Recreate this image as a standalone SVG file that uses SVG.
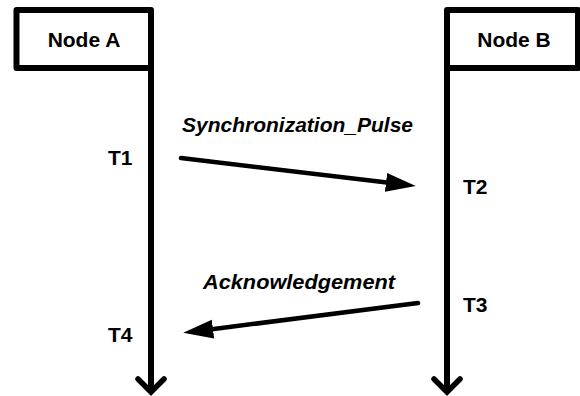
<svg xmlns="http://www.w3.org/2000/svg" width="580" height="396" viewBox="0 0 580 396">
  <style>
    .box { fill: #fff; stroke: #000; stroke-width: 6; stroke-linejoin: round; }
    .life { fill: none; stroke: #000; stroke-width: 6; }
    .chev { fill: none; stroke: #000; stroke-width: 5.5; stroke-linejoin: miter; stroke-linecap: round; }
    .msg { fill: none; stroke: #000; stroke-width: 4.5; stroke-linecap: round; }
    text { font-family: "Liberation Sans", Arial, sans-serif; font-weight: bold; fill: #000; }
    .title { font-size: 21px; text-anchor: middle; }
    .tick { font-size: 21px; }
    .label { font-size: 21px; font-style: italic; }
  </style>
  <defs>
    <marker id="head" markerUnits="userSpaceOnUse" markerWidth="32" markerHeight="22" viewBox="0 -11 32 22" refX="1" refY="0" orient="auto">
      <path d="M0,-9.5 L30,0 L0,9.5 Z" fill="#000"/>
    </marker>
  </defs>

  <rect width="580" height="396" fill="#fff"/>

  <!-- lifelines and messages -->
  <g id="connectors">
    <line class="life" x1="151" y1="68" x2="151" y2="391"/>
    <polyline class="chev" points="138,379 151,392 164,379"/>
    <line class="life" x1="447" y1="68" x2="447" y2="391"/>
    <polyline class="chev" points="434,379 447,392 460,379"/>

    <line class="msg" x1="181" y1="158" x2="387" y2="182.5" marker-end="url(#head)"/>
    <line class="msg" x1="418" y1="303" x2="212" y2="329.2" marker-end="url(#head)"/>
  </g>

  <g id="nodeA">
    <rect class="box" x="16.5" y="10" width="134.5" height="58"/>
    <text class="title" x="84" y="47">Node A</text>
  </g>

  <g id="nodeB">
    <rect class="box" x="447" y="10" width="131" height="58"/>
    <text class="title" x="514" y="47">Node B</text>
  </g>

  <g id="labels">
    <text class="label" x="182" y="132" textLength="231" lengthAdjust="spacingAndGlyphs">Synchronization_Pulse</text>
    <text class="label" x="203" y="289" textLength="192" lengthAdjust="spacingAndGlyphs">Acknowledgement</text>
    <text class="tick" x="108" y="165">T1</text>
    <text class="tick" x="463" y="194">T2</text>
    <text class="tick" x="463" y="312">T3</text>
    <text class="tick" x="108" y="342">T4</text>
  </g>
</svg>
